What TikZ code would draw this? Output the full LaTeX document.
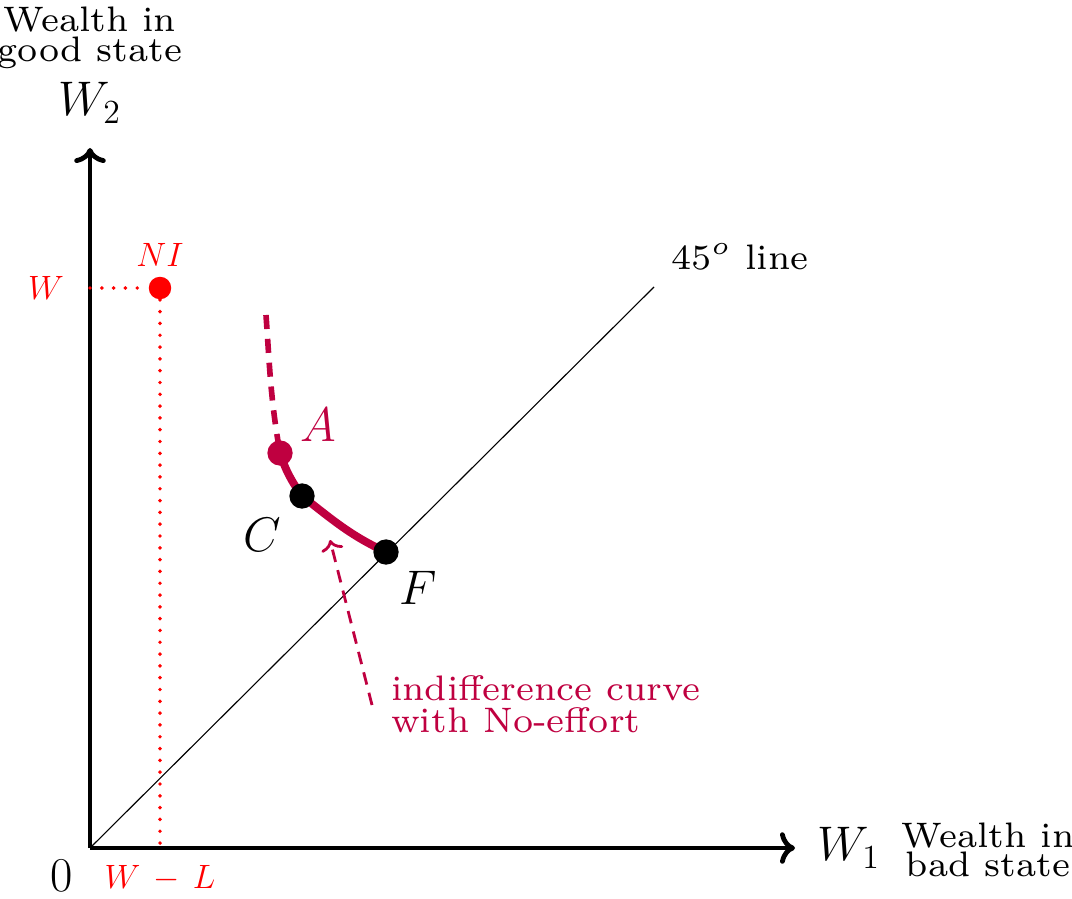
\documentclass[tikz,border=0pt]{standalone}
\usepackage{amsmath}
\usepackage{tikz}
\usetikzlibrary{arrows.meta,calc}
\definecolor{icurve}{rgb}{0.75,0,0.25}
\definecolor{endow}{rgb}{1,0,0}

\begin{document}
\begin{tikzpicture}[
  axis/.style={line width=1.7pt,->},
  big/.style={font=\LARGE},
  lbl/.style={font=\large},
  txt/.style={font=\scriptsize,scale=1.8},
  dot/.style={circle,fill,inner sep=0pt,minimum size=9pt},
  dotline/.style={endow,line width=1.4pt,line cap=round,dash pattern=on 0pt off 4.2pt}
]
  \useasboundingbox (0,0) rectangle (13.4,11.225);
  \coordinate (orig) at (1.125,0.625);
  \coordinate (ytip) at (1.125,9.375);
  \coordinate (xtip) at (9.9375,0.625);
  \coordinate (diag) at (8.175,7.6375);
  % axes
  \draw[axis] (orig) -- (ytip);
  \draw[axis] (orig) -- (xtip);
  \node[big] (w2) at (1.125,9.94) {$W_2$};
  \node[txt,align=center] (w2txt) at (1.125,10.75) {Wealth in\\[-2.2pt]good state};
  \node[big] (w1) at (10.61,0.625) {$W_1$};
  \node[txt,align=center] (w1txt) at (12.35,0.6) {Wealth in\\[-2.2pt]bad state};
  \node[big] (zero) at (0.775,0.28) {$0$};
  % certainty line
  \draw[thin] (orig) -- (diag);
  \node[txt,anchor=base west,inner sep=0pt] (diaglbl) at (8.375,7.85) {$45^o$ line};
  % no insurance
  \node[dot,endow,minimum size=8pt] (ni) at (2.0,7.625) {};
  \node[lbl,endow,above] (nilbl) at (ni.north) {$NI$};
  \node[lbl,endow] (wlbl) at (0.575,7.625) {$W$};
  \node[lbl,endow] (wllbl) at (2.0,0.24) {$W\,-\,L$};
  \draw[dotline] (orig |- ni) -- (ni);
  \draw[dotline] (ni) -- (ni |- orig);
  % indifference curve
  \coordinate (ctop) at (3.325,7.2875);
  \coordinate (a) at (3.5,5.5625);
  \coordinate (c) at (3.775,5.025);
  \coordinate (f) at (4.825,4.325);
  \draw[icurve,line width=2pt,dash pattern=on 5pt off 3.5pt] (ctop) to[out=-86,in=100] (a);
  \draw[icurve,line width=2.8pt] (a) to[out=-72,in=125] (c) to[out=-38,in=155] (f);
  \node[dot,icurve] (ptA) at (a) {};
  \node[dot] (ptC) at (c) {};
  \node[dot] (ptF) at (f) {};
  \node[big,icurve] (albl) at (3.975,5.9125) {$A$};
  \node[big] (clbl) at (3.275,4.5375) {$C$};
  \node[big] (flbl) at (5.225,3.875) {$F$};
  % pointer to the curve
  \node[txt,icurve,align=left,anchor=base west,inner sep=0pt] (notxt) at (4.875,2.075) {indifference curve\\[-1.8pt]with No-effort};
  \coordinate (arrS) at (4.65,2.4125);
  \coordinate (arrE) at (4.125,4.475);
  \draw[icurve,line width=1pt,dash pattern=on 4.5pt off 3pt,->] (arrS) -- (arrE);
\end{tikzpicture}
\end{document}
